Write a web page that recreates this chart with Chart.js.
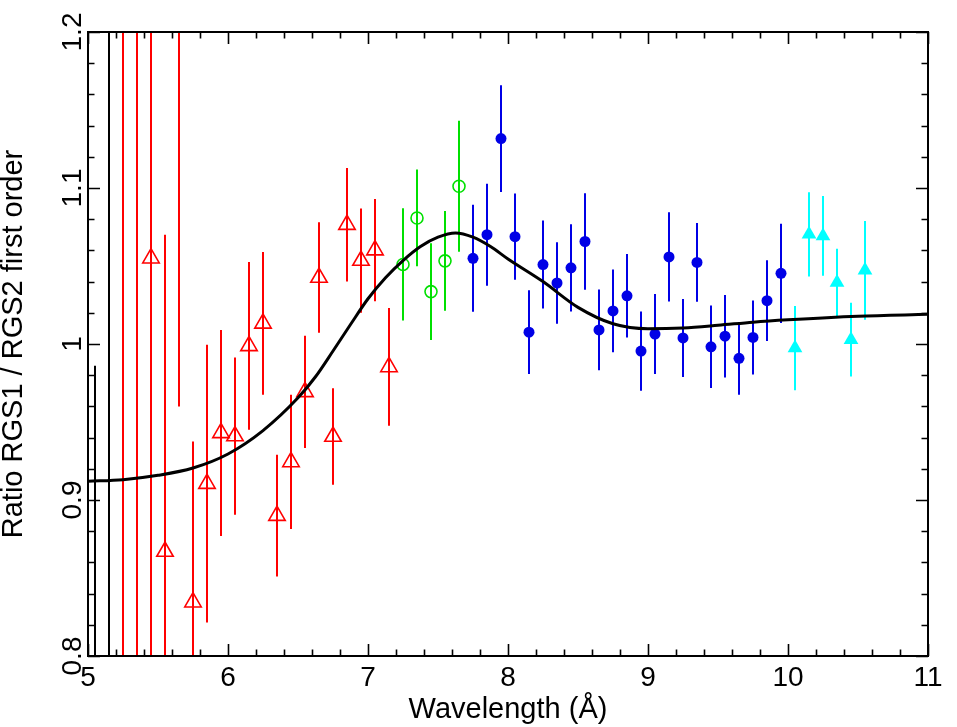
<!DOCTYPE html>
<html><head><meta charset="utf-8">
<script src="https://cdn.jsdelivr.net/npm/chart.js@4.4.1/dist/chart.umd.min.js"></script>
<style>html,body{margin:0;padding:0;background:#fff;}canvas{display:block;}</style>
</head><body>
<canvas id="c" width="957" height="727"></canvas>
<script>
const FONT = "'Liberation Sans', Arial, Helvetica, sans-serif";
const FONT_SIZE = 28;
const TITLE_SIZE = 29;

// axes
const xMin = 5, xMax = 11;
const yMin = 0.8, yMax = 1.2;
const xMajorTicks = [5, 6, 7, 8, 9, 10, 11];
const xMinorStep = 0.2;
const yMajorTicks = [0.8, 0.9, 1.0, 1.1, 1.2];
const yTickLabels = ['0.8', '0.9', '1', '1.1', '1.2'];
const yMinorStep = 0.02;
const xTitle = 'Wavelength (Å)';
const yTitle = 'Ratio RGS1 / RGS2 first order';

// black series (markers off the plotted range)
const blackWave  = [5.05, 5.15];
const blackRatio = [0.70, 1.00];
const blackErr   = [0.286, 0.50];

// red open triangles
const redWave  = [5.25, 5.35, 5.45, 5.55, 5.65, 5.75, 5.85, 5.95, 6.05, 6.15, 6.25, 6.35, 6.45, 6.55, 6.65, 6.75, 6.85, 6.95, 7.05, 7.15];
const redRatio = [1.28, 1.25, 1.055, 0.867, 1.33, 0.8345, 0.9105, 0.943, 0.941, 0.9988, 1.0132, 0.890, 0.9244, 0.9693, 1.0426, 0.9407, 1.0765, 1.0535, 1.0602, 0.9853];
const redErr   = [0.50, 0.47, 0.28, 0.203, 0.37, 0.103, 0.089, 0.066, 0.0504, 0.0538, 0.0458, 0.039, 0.043, 0.036, 0.0354, 0.031, 0.0364, 0.0334, 0.0328, 0.0377];

// green open circles
const greenWave  = [7.25, 7.35, 7.45, 7.55, 7.65];
const greenRatio = [1.051, 1.0808, 1.0336, 1.0533, 1.1011];
const greenErr   = [0.036, 0.031, 0.031, 0.032, 0.042];

// blue filled circles
const blueWave  = [7.75, 7.85, 7.95, 8.05, 8.15, 8.25, 8.35, 8.45, 8.55, 8.65, 8.75, 8.85, 8.95, 9.05, 9.15, 9.25, 9.35, 9.45, 9.55, 9.65, 9.75, 9.85, 9.95];
const blueRatio = [1.0549, 1.0701, 1.1317, 1.0688, 1.0076, 1.0509, 1.0391, 1.0488, 1.0657, 1.009, 1.0212, 1.0309, 0.9955, 1.0064, 1.0558, 1.0039, 1.0523, 0.9982, 1.005, 0.9908, 1.0042, 1.0278, 1.0453];
const blueErr   = [0.0343, 0.0327, 0.0342, 0.0276, 0.0268, 0.0282, 0.0261, 0.028, 0.0309, 0.0259, 0.0265, 0.0268, 0.0254, 0.0257, 0.0286, 0.025, 0.0252, 0.0264, 0.0264, 0.0233, 0.0237, 0.0259, 0.0318];

// cyan filled triangles
const cyanWave  = [10.05, 10.15, 10.25, 10.35, 10.45, 10.55];
const cyanRatio = [0.9974, 1.0703, 1.0693, 1.0394, 1.0028, 1.0472];
const cyanErr   = [0.027, 0.027, 0.0255, 0.0217, 0.0236, 0.0316];

// model curve
const modelWave  = [5.0, 5.25, 5.5, 5.75, 6.0, 6.25, 6.5, 6.625, 6.75, 6.875, 7.0, 7.125, 7.25, 7.375, 7.5, 7.625, 7.75, 7.875, 8.0, 8.25, 8.5, 8.75, 9.0, 9.25, 9.5, 9.75, 10.0, 10.5, 11.0];
const modelRatio = [0.912, 0.913, 0.9158, 0.9205, 0.9295, 0.9445, 0.9655, 0.979, 0.9955, 1.0125, 1.029, 1.0425, 1.0535, 1.0625, 1.0685, 1.0712, 1.0685, 1.0625, 1.0545, 1.040, 1.0235, 1.013, 1.0098, 1.0103, 1.012, 1.014, 1.0155, 1.0178, 1.019];

const pts = (xs, ys) => xs.map((v, i) => ({x: v, y: ys[i]}));

const errorBars = {
  id: 'errorBars',
  beforeDatasetsDraw(chart) {
    const {ctx, chartArea: a, scales: {x, y}} = chart;
    ctx.save();
    ctx.beginPath();
    ctx.rect(a.left, a.top, a.right - a.left, a.bottom - a.top);
    ctx.clip();
    ctx.lineWidth = 2;
    chart.data.datasets.forEach(ds => {
      if (!ds.errors) return;
      ctx.strokeStyle = ds.errColor;
      ds.data.forEach((p, i) => {
        const e = ds.errors[i];
        const px = Math.round(x.getPixelForValue(p.x));
        ctx.beginPath();
        ctx.moveTo(px, y.getPixelForValue(p.y - e));
        ctx.lineTo(px, y.getPixelForValue(p.y + e));
        ctx.stroke();
      });
    });
    ctx.restore();
  }
};

const frame = {
  id: 'frame',
  afterDraw(chart) {
    const {ctx, chartArea: a, scales: {x, y}} = chart;
    ctx.save();
    ctx.strokeStyle = '#000';
    ctx.lineWidth = 1.6;
    const MAJ = 12, MIN = 6.5;
    ctx.beginPath();
    for (let v = xMin; v <= xMax + 1e-9; v += xMinorStep) {
      const isMaj = xMajorTicks.some(t => Math.abs(t - v) < 1e-6);
      const L = isMaj ? MAJ : MIN;
      const px = Math.round(x.getPixelForValue(v)) + 0.5;
      ctx.moveTo(px, a.bottom); ctx.lineTo(px, a.bottom - L);
      ctx.moveTo(px, a.top); ctx.lineTo(px, a.top + L);
    }
    for (let v = yMin; v <= yMax + 1e-9; v += yMinorStep) {
      const isMaj = yMajorTicks.some(t => Math.abs(t - v) < 1e-6);
      const L = isMaj ? MAJ : MIN;
      const py = Math.round(y.getPixelForValue(v)) + 0.5;
      ctx.moveTo(a.left, py); ctx.lineTo(a.left + L, py);
      ctx.moveTo(a.right, py); ctx.lineTo(a.right - L, py);
    }
    ctx.stroke();
    ctx.lineWidth = 2;
    ctx.strokeRect(a.left, a.top, a.right - a.left, a.bottom - a.top);
    // rotated y tick labels
    ctx.fillStyle = '#000';
    ctx.font = FONT_SIZE + 'px ' + FONT;
    ctx.textAlign = 'center';
    ctx.textBaseline = 'alphabetic';
    yMajorTicks.forEach((v, i) => {
      ctx.save();
      ctx.translate(a.left - 7, y.getPixelForValue(v));
      ctx.rotate(-Math.PI / 2);
      ctx.fillText(yTickLabels[i], 0, 0);
      ctx.restore();
    });
    ctx.restore();
  }
};

new Chart(document.getElementById('c'), {
  data: {
    datasets: [
      {type: 'line', label: 'model', data: pts(modelWave, modelRatio), borderColor: '#000', borderWidth: 3,
       pointRadius: 0, cubicInterpolationMode: 'monotone', fill: false},
      {type: 'scatter', label: 'black', data: pts(blackWave, blackRatio), errors: blackErr, errColor: '#000',
       pointRadius: 0, borderColor: '#000'},
      {type: 'scatter', label: 'red', data: pts(redWave, redRatio), errors: redErr, errColor: '#ff0000',
       pointStyle: 'triangle', pointRadius: 9.5, borderColor: '#ff0000', backgroundColor: 'rgba(0,0,0,0)', borderWidth: 1.6},
      {type: 'scatter', label: 'green', data: pts(greenWave, greenRatio), errors: greenErr, errColor: '#00e000',
       pointStyle: 'circle', pointRadius: 6, borderColor: '#00e000', backgroundColor: 'rgba(0,0,0,0)', borderWidth: 1.6},
      {type: 'scatter', label: 'blue', data: pts(blueWave, blueRatio), errors: blueErr, errColor: '#0000e6',
       pointStyle: 'circle', pointRadius: 5.5, borderColor: '#0000e6', backgroundColor: '#0000e6', borderWidth: 0},
      {type: 'scatter', label: 'cyan', data: pts(cyanWave, cyanRatio), errors: cyanErr, errColor: '#00ffff',
       pointStyle: 'triangle', pointRadius: 8.5, borderColor: '#00ffff', backgroundColor: '#00ffff', borderWidth: 0}
    ]
  },
  options: {
    responsive: false,
    animation: false,
    events: [],
    layout: {padding: {left: 0, right: 29, top: 32, bottom: 0}},
    plugins: {legend: {display: false}, tooltip: {enabled: false}},
    scales: {
      x: {
        type: 'linear', position: 'bottom', min: xMin, max: xMax,
        afterBuildTicks(s) { s.ticks = xMajorTicks.map(v => ({value: v})); },
        afterFit(s) { s.height = 71; },
        grid: {display: false, drawTicks: false},
        border: {display: false},
        ticks: {color: '#000', font: {family: FONT, size: FONT_SIZE}, padding: 5, maxRotation: 0, autoSkip: false},
        title: {display: true, text: xTitle, color: '#000', font: {family: FONT, size: TITLE_SIZE, lineHeight: 1}, padding: {top: 0, bottom: 3}}
      },
      y: {
        type: 'linear', position: 'left', min: yMin, max: yMax,
        afterFit(s) { s.width = 88; },
        grid: {display: false, drawTicks: false},
        border: {display: false},
        ticks: {display: false},
        title: {display: true, text: yTitle, color: '#000', font: {family: FONT, size: TITLE_SIZE, lineHeight: 1}, padding: {top: -1, bottom: 0}}
      }
    }
  },
  plugins: [errorBars, frame]
});
</script>
</body></html>
